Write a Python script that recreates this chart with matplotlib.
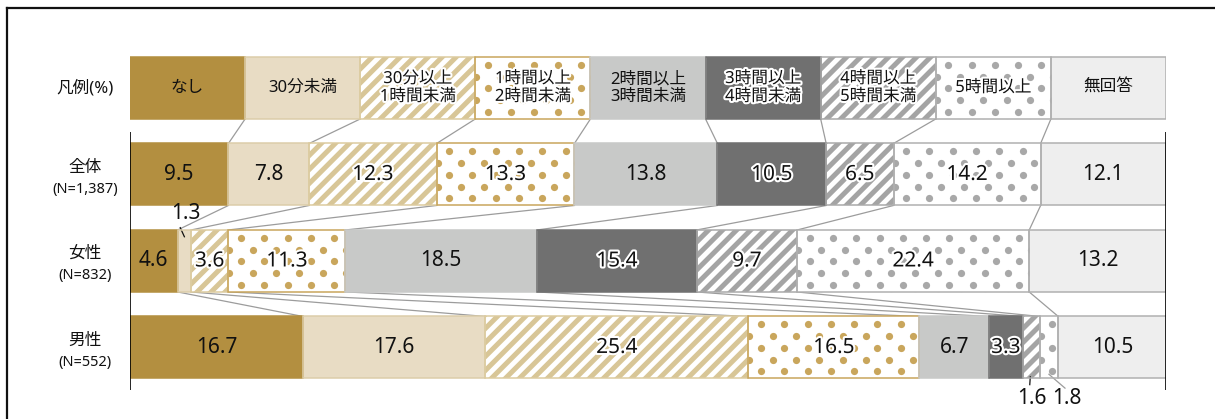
import numpy as np
import matplotlib.pyplot as plt
import matplotlib.patheffects as pe
from matplotlib.collections import LineCollection
from matplotlib.transforms import IdentityTransform

# 数字は Noto Sans、和文は CJK にフォールバック
plt.rcParams['font.family'] = ['Noto Sans', 'Noto Sans CJK JP', 'DejaVu Sans']

# 回答区分と属性
categories = ['なし', '30分未満', '30分以上\n1時間未満', '1時間以上\n2時間未満',
              '2時間以上\n3時間未満', '3時間以上\n4時間未満', '4時間以上\n5時間未満',
              '5時間以上', '無回答']
groups = ['全体', '女性', '男性']
group_n = ['(N=1,387)', '(N=832)', '(N=552)']

# 構成比(%)
total = [9.5, 7.8, 12.3, 13.3, 13.8, 10.5, 6.5, 14.2, 12.1]
female = [4.6, 1.3, 3.6, 11.3, 18.5, 15.4, 9.7, 22.4, 13.2]
male = [16.7, 17.6, 25.4, 16.5, 6.7, 3.3, 1.6, 1.8, 10.5]

# 区分ごとの塗り・枠・模様
fills = ['#b38f40', '#e8dcc4', 'white', 'white', '#c8c9c8', '#707070', 'white', 'white', '#eeeeee']
edges = ['#b38f40', '#dccda9', '#dccb9f', '#c9a65c', '#c8c9c8', '#707070', '#aaaaaa', '#b0b0b0', '#b0b0b0']
patterns = [None, None, 'stripe', 'dot', None, None, 'stripe', 'dot', None]
pattern_colors = [None, None, '#d8c697', '#c9a65c', None, None, '#a4a4a4', '#a8a8a8', None]
halo = [False, False, True, True, False, True, True, True, False]

h = 0.717
stripe_step = 14.0
dot_dx, dot_dy = 23.3, 11.7
val_size = 15
txt_color = '#111111'
white_edge = [pe.withStroke(linewidth=3, foreground='white')]

fig = plt.figure(figsize=(12.15, 4.19), dpi=100)
ax = fig.add_axes([130 / 1215, 0, 1036 / 1215, 1])
ax.set_xlim(0, 100)
ax.set_ylim(3.827, -1.017)
ax.axis('off')


def add_stripes(bar, color):
    x0, y0, x1, y1 = bar.get_window_extent().extents
    hgt = y1 - y0 + 4
    starts = np.arange(x0 - hgt - stripe_step, x1 + stripe_step, stripe_step)
    segs = [[(s, y0 - 2), (s + hgt, y0 - 2 + hgt)] for s in starts]
    lc = LineCollection(segs, colors=color, linewidths=3.6, capstyle='butt',
                        transform=IdentityTransform(), zorder=2)
    ax.add_collection(lc, autolim=False)
    lc.set_clip_path(bar)


def add_dots(bar, color):
    x0, y0, x1, y1 = bar.get_window_extent().extents
    xs, ys = [], []
    for i, yv in enumerate(np.arange(y1 - 8, y0 - 6, -dot_dy)):
        off = 1 if i % 2 else 12.5
        row = np.arange(x0 + off, x1 + 6, dot_dx)
        xs.extend(row)
        ys.extend([yv] * len(row))
    sc = ax.scatter(xs, ys, s=27, color=color, linewidths=0,
                    transform=IdentityTransform(), zorder=2)
    sc.set_clip_path(bar)


def draw_row(y, widths, lefts):
    bars = ax.barh(y, widths, left=lefts, height=h, color=fills, linewidth=0, zorder=1)
    for bar, pat, pc in zip(bars, patterns, pattern_colors):
        if pat == 'stripe':
            add_stripes(bar, pc)
        elif pat == 'dot':
            add_dots(bar, pc)
    ax.barh(y, widths, left=lefts, height=h, fill=False, edgecolor=edges,
            linewidth=1.1, zorder=3)


# 凡例の行
leg_w = np.full(len(categories), 100 / len(categories))
leg_left = np.arange(len(categories)) * 100 / len(categories)
draw_row(0, leg_w, leg_left)
for i, lab in enumerate(categories):
    t = ax.text(leg_left[i] + leg_w[i] / 2, 0, lab, ha='center', va='center',
                fontsize=12, color=txt_color, linespacing=1.15, zorder=5)
    if halo[i]:
        t.set_path_effects(white_edge)
ax.text(-4.34, 0, '凡例(%)', ha='center', va='center', fontsize=12, color=txt_color)

# 属性ごとの帯
rows = [total, female, male]
outside = {(1, 1), (2, 6), (2, 7)}
prev_edges = leg_left[1:]
for r, vals in enumerate(rows):
    y = r + 1
    vals = np.array(vals)
    lefts = np.concatenate([[0], np.cumsum(vals)[:-1]])
    draw_row(y, vals, lefts)
    # 区切り線
    for a, b in zip(prev_edges, lefts[1:]):
        ax.plot([a, b], [y - 1 + h / 2, y - h / 2], color='#9c9c9c', lw=0.9, zorder=0)
    prev_edges = lefts[1:]
    for i, v in enumerate(vals):
        if (r, i) in outside:
            continue
        t = ax.text(lefts[i] + v / 2, y, f'{v:.1f}', ha='center', va='center',
                    fontsize=val_size, color=txt_color, zorder=5)
        if halo[i]:
            t.set_path_effects(white_edge)
    ax.text(-4.34, y - 0.08, groups[r], ha='center', va='center', fontsize=12, color=txt_color)
    ax.text(-4.34, y + 0.17, group_n[r], ha='center', va='center', fontsize=10.5, color=txt_color)

# 小さい値のラベル
c13 = female[0] + female[1] / 2
ax.plot([c13, c13 - 0.4], [1.72, 1.615], color=txt_color, lw=0.9)
ax.text(c13 + 0.1, 1.45, f'{female[1]:.1f}', ha='center', va='center', fontsize=val_size, color=txt_color)
c16 = sum(male[:6]) + male[6] / 2
ax.plot([c16 - 0.1, c16 - 0.15], [3.34, 3.43], color=txt_color, lw=0.9)
ax.text(c16 + 0.1, 3.585, f'{male[6]:.1f}', ha='center', va='center', fontsize=val_size, color=txt_color)
c18 = sum(male[:7]) + male[7] / 2
ax.plot([c18, c18 + 1.55], [3.31, 3.47], color='#9c9c9c', lw=0.9)
ax.text(c18 + 1.75, 3.585, f'{male[7]:.1f}', ha='center', va='center', fontsize=val_size, color=txt_color)

# 左右の軸線
ax.vlines([0, 100], 0.51, 3.49, color='black', lw=1.2, zorder=4)

# 外枠
fig.add_artist(plt.Line2D([7 / 1215, 7 / 1215], [0, 1 - 8 / 419], transform=fig.transFigure,
                          color='#111111', lw=1.6))
fig.add_artist(plt.Line2D([7 / 1215, 1], [1 - 8 / 419, 1 - 8 / 419], transform=fig.transFigure,
                          color='#111111', lw=1.6))

fig.savefig('out.png', dpi=100)
